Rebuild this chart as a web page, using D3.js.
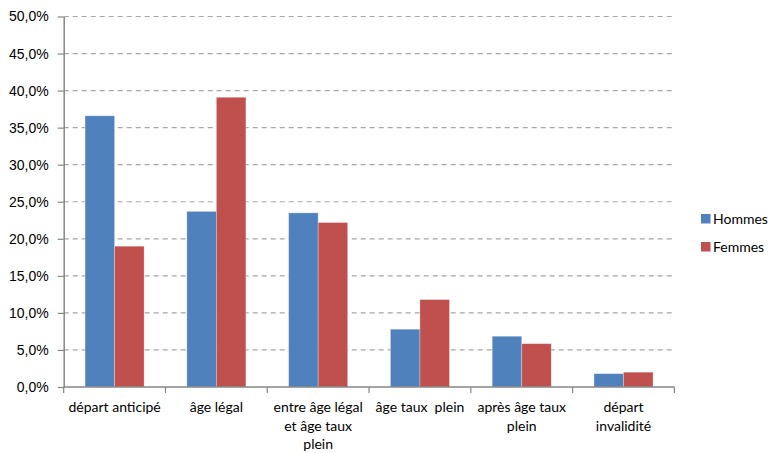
<!DOCTYPE html>
<html>
<head>
<meta charset="utf-8">
<script src="https://cdn.jsdelivr.net/npm/d3@7"></script>
<style>
  html, body { margin: 0; padding: 0; background: #fff; }
  svg { display: block; font-family: Lato, "Open Sans", sans-serif; }
</style>
</head>
<body>
<svg id="chart" width="768" height="453"></svg>
<script>
// Mode de départ à la retraite, hommes / femmes (part en %)
const categories = [
  ["départ anticipé"],
  ["âge légal"],
  ["entre âge légal", "et âge taux", "plein"],
  ["âge taux  plein"],
  ["après âge taux", "plein"],
  ["départ", "invalidité"]
];
const seriesNames = ["Hommes", "Femmes"];
const hommes = [36.6, 23.7, 23.5, 7.8, 6.85, 1.8];
const femmes = [19.0, 39.1, 22.2, 11.8, 5.85, 2.0];
const yTicks = [0, 5, 10, 15, 20, 25, 30, 35, 40, 45, 50];
const colors = ["#4F81BD", "#C0504D"];

const svg = d3.select("#chart");
const plotLeft = 63.7, plotRight = 674.4, plotTop = 16.5, plotBottom = 387;

const y = d3.scaleLinear().domain([0, 50]).range([plotBottom, plotTop]);
const x0 = d3.scaleBand()
  .domain(d3.range(categories.length))
  .range([plotLeft, plotRight])
  .paddingInner(0.42)
  .paddingOuter(0.21);
const x1 = d3.scaleBand()
  .domain(seriesNames)
  .range([0, x0.bandwidth()]);
const color = d3.scaleOrdinal().domain(seriesNames).range(colors);

const fmt = v => d3.format(".1f")(v).replace(".", ",") + "%";

// dashed horizontal gridlines
svg.append("g")
  .selectAll("line")
  .data(yTicks.filter(t => t > 0))
  .join("line")
  .attr("x1", plotLeft).attr("x2", plotRight)
  .attr("y1", d => y(d)).attr("y2", d => y(d))
  .attr("stroke", "#A6A6A6")
  .attr("stroke-width", 1.2)
  .attr("stroke-dasharray", "5,4");

// bars
const rows = categories.map((c, i) => [
  { s: "Hommes", v: hommes[i] },
  { s: "Femmes", v: femmes[i] }
]);
svg.append("g")
  .selectAll("g")
  .data(rows)
  .join("g")
  .attr("transform", (d, i) => `translate(${x0(i)},0)`)
  .selectAll("rect")
  .data(d => d)
  .join("rect")
  .attr("x", d => x1(d.s))
  .attr("y", d => y(d.v))
  .attr("width", x1.bandwidth())
  .attr("height", d => y(0) - y(d.v))
  .attr("fill", d => color(d.s))
  .attr("stroke", "rgba(255,255,255,0.35)")
  .attr("stroke-width", 0.8);

// y axis
const yAxis = svg.append("g")
  .attr("transform", `translate(${plotLeft},0)`)
  .call(d3.axisLeft(y).tickValues(yTicks).tickFormat(fmt).tickSizeInner(6).tickSizeOuter(0).tickPadding(9));
yAxis.select(".domain").attr("stroke", "#868686").attr("stroke-width", 1.5);
yAxis.selectAll(".tick line").attr("stroke", "#868686").attr("stroke-width", 1.2);
yAxis.selectAll(".tick text")
  .attr("fill", "#000")
  .style("font-size", "14px");

// x axis with ticks at category boundaries
const xAxisG = svg.append("g").attr("transform", `translate(0,${plotBottom})`);
xAxisG.append("line")
  .attr("x1", plotLeft).attr("x2", plotRight)
  .attr("stroke", "#868686").attr("stroke-width", 1.5);
const step = x0.step();
xAxisG.selectAll("line.tk")
  .data(d3.range(categories.length + 1))
  .join("line")
  .attr("class", "tk")
  .attr("x1", i => plotLeft + i * step).attr("x2", i => plotLeft + i * step)
  .attr("y1", 0).attr("y2", 6)
  .attr("stroke", "#868686").attr("stroke-width", 1.2);

// category labels
xAxisG.selectAll("text")
  .data(categories)
  .join("text")
  .attr("text-anchor", "middle")
  .attr("fill", "#000")
  .style("font-size", "14px")
  .attr("transform", (d, i) => `translate(${plotLeft + (i + 0.5) * step},25)`)
  .selectAll("tspan")
  .data(d => d)
  .join("tspan")
  .attr("x", 0)
  .attr("dy", (d, j) => j === 0 ? 0 : 18.5)
  .style("white-space", "pre")
  .text(d => d);

// legend
const legend = svg.append("g").attr("transform", "translate(701,214)");
const li = legend.selectAll("g")
  .data(seriesNames)
  .join("g")
  .attr("transform", (d, i) => `translate(0,${i * 28})`);
li.append("rect")
  .attr("width", 9.5).attr("height", 9.5)
  .attr("fill", d => color(d));
li.append("text")
  .attr("x", 12).attr("y", 10)
  .attr("fill", "#000")
  .style("font-size", "14px")
  .text(d => d);
</script>
</body>
</html>
